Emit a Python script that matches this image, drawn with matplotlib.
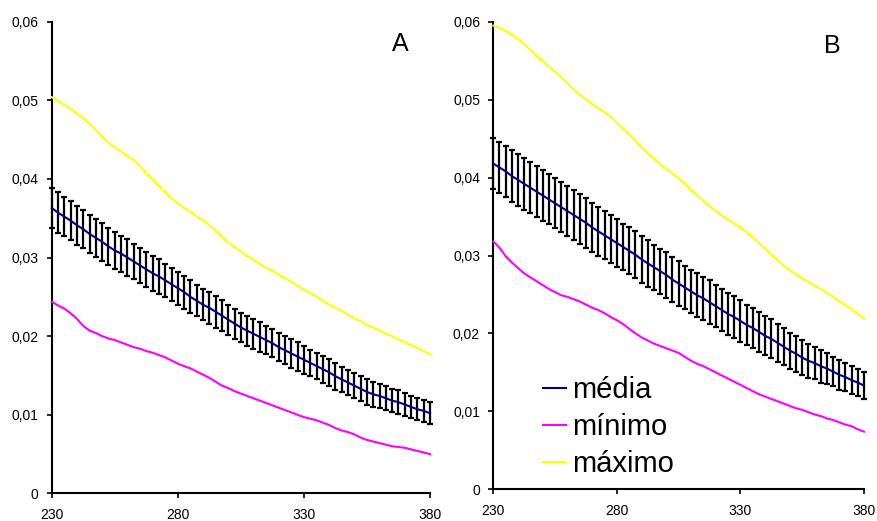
import numpy as np
import matplotlib
matplotlib.use('Agg')
import matplotlib.pyplot as plt
from matplotlib.ticker import FuncFormatter

plt.rcParams['font.family'] = ['Liberation Sans', 'DejaVu Sans']

# x categories (step 2.5)
x = np.arange(230, 380.1, 2.5)

# Panel A
a_media = [0.0363, 0.0357, 0.0352, 0.0347, 0.0341, 0.0336, 0.0330, 0.0325, 0.0320, 0.0314,
           0.0309, 0.0305, 0.0300, 0.0295, 0.0290, 0.0285, 0.0280, 0.0276, 0.0271, 0.0266,
           0.0261, 0.0256, 0.0250, 0.0245, 0.0240, 0.0236, 0.0231, 0.0226, 0.0221, 0.0216,
           0.0211, 0.0207, 0.0203, 0.0199, 0.0195, 0.0191, 0.0186, 0.0182, 0.0178, 0.0174,
           0.0170, 0.0166, 0.0162, 0.0158, 0.0154, 0.0149, 0.0145, 0.0141, 0.0137, 0.0133,
           0.0129, 0.0126, 0.0124, 0.0121, 0.0118, 0.0116, 0.0113, 0.0110, 0.0107, 0.0105,
           0.0102]
a_err = [0.0026, 0.0026, 0.0025, 0.0025, 0.0025, 0.0024, 0.0024, 0.0024, 0.0024, 0.0023,
         0.0023, 0.0023, 0.0023, 0.0022, 0.0022, 0.0022, 0.0022, 0.0022, 0.0021, 0.0021,
         0.0021, 0.0021, 0.0021, 0.0020, 0.0020, 0.0020, 0.0020, 0.0020, 0.0019, 0.0019,
         0.0019, 0.0019, 0.0019, 0.0019, 0.0018, 0.0018, 0.0018, 0.0018, 0.0018, 0.0018,
         0.0018, 0.0017, 0.0017, 0.0017, 0.0017, 0.0017, 0.0016, 0.0016, 0.0016, 0.0016,
         0.0016, 0.0016, 0.0015, 0.0015, 0.0015, 0.0015, 0.0015, 0.0014, 0.0014, 0.0014,
         0.0014]
a_min = [0.0244, 0.0239, 0.0235, 0.0229, 0.0222, 0.0213, 0.0207, 0.0204, 0.0200, 0.0197,
         0.0195, 0.0192, 0.0189, 0.0186, 0.0184, 0.0181, 0.0179, 0.0176, 0.0173, 0.0169,
         0.0165, 0.0162, 0.0159, 0.0155, 0.0151, 0.0147, 0.0142, 0.0137, 0.0134, 0.0130,
         0.0127, 0.0124, 0.0121, 0.0118, 0.0115, 0.0112, 0.0109, 0.0106, 0.0103, 0.0100,
         0.0097, 0.0095, 0.0093, 0.0090, 0.0087, 0.0083, 0.0080, 0.0078, 0.0075, 0.0071,
         0.0068, 0.0066, 0.0064, 0.0062, 0.0060, 0.0059, 0.0058, 0.0056, 0.0054, 0.0052,
         0.0050]
a_max = [0.0504, 0.0499, 0.0494, 0.0489, 0.0483, 0.0477, 0.0470, 0.0462, 0.0453, 0.0446,
         0.0440, 0.0435, 0.0429, 0.0424, 0.0416, 0.0407, 0.0399, 0.0391, 0.0383, 0.0375,
         0.0369, 0.0363, 0.0358, 0.0352, 0.0347, 0.0341, 0.0334, 0.0326, 0.0319, 0.0313,
         0.0308, 0.0302, 0.0297, 0.0292, 0.0287, 0.0283, 0.0278, 0.0274, 0.0269, 0.0264,
         0.0259, 0.0255, 0.0250, 0.0245, 0.0240, 0.0236, 0.0232, 0.0227, 0.0223, 0.0219,
         0.0214, 0.0211, 0.0207, 0.0203, 0.0200, 0.0196, 0.0192, 0.0189, 0.0185, 0.0181,
         0.0177]

# Panel B
b_media = [0.0418, 0.0413, 0.0408, 0.0402, 0.0397, 0.0392, 0.0387, 0.0382, 0.0377, 0.0372,
           0.0367, 0.0362, 0.0357, 0.0352, 0.0347, 0.0342, 0.0336, 0.0331, 0.0326, 0.0321,
           0.0316, 0.0311, 0.0306, 0.0301, 0.0295, 0.0290, 0.0285, 0.0280, 0.0275, 0.0269,
           0.0264, 0.0259, 0.0254, 0.0249, 0.0245, 0.0240, 0.0235, 0.0230, 0.0225, 0.0221,
           0.0216, 0.0211, 0.0207, 0.0202, 0.0197, 0.0193, 0.0188, 0.0183, 0.0178, 0.0174,
           0.0169, 0.0165, 0.0162, 0.0158, 0.0155, 0.0151, 0.0147, 0.0144, 0.0140, 0.0137,
           0.0133]
b_err = [0.0033, 0.0033, 0.0033, 0.0033, 0.0033, 0.0033, 0.0033, 0.0033, 0.0033, 0.0032,
         0.0032, 0.0032, 0.0032, 0.0032, 0.0032, 0.0032, 0.0032, 0.0031, 0.0031, 0.0031,
         0.0031, 0.0030, 0.0030, 0.0030, 0.0030, 0.0030, 0.0029, 0.0029, 0.0029, 0.0029,
         0.0029, 0.0028, 0.0028, 0.0028, 0.0028, 0.0028, 0.0027, 0.0027, 0.0027, 0.0027,
         0.0027, 0.0026, 0.0026, 0.0026, 0.0025, 0.0025, 0.0024, 0.0024, 0.0023, 0.0023,
         0.0022, 0.0022, 0.0021, 0.0021, 0.0020, 0.0019, 0.0019, 0.0018, 0.0018, 0.0017,
         0.0017]
b_min = [0.0318, 0.0310, 0.0299, 0.0291, 0.0284, 0.0277, 0.0272, 0.0267, 0.0262, 0.0257,
         0.0253, 0.0249, 0.0247, 0.0244, 0.0241, 0.0237, 0.0233, 0.0230, 0.0226, 0.0221,
         0.0217, 0.0212, 0.0206, 0.0200, 0.0195, 0.0191, 0.0187, 0.0184, 0.0181, 0.0178,
         0.0175, 0.0170, 0.0165, 0.0161, 0.0158, 0.0154, 0.0150, 0.0146, 0.0142, 0.0138,
         0.0134, 0.0130, 0.0126, 0.0122, 0.0119, 0.0116, 0.0113, 0.0110, 0.0107, 0.0104,
         0.0102, 0.0099, 0.0096, 0.0094, 0.0091, 0.0089, 0.0086, 0.0083, 0.0081, 0.0077,
         0.0074]
b_max = [0.0595, 0.0592, 0.0588, 0.0583, 0.0578, 0.0571, 0.0564, 0.0556, 0.0549, 0.0542,
         0.0536, 0.0529, 0.0521, 0.0513, 0.0506, 0.0500, 0.0494, 0.0489, 0.0484, 0.0478,
         0.0470, 0.0463, 0.0455, 0.0447, 0.0439, 0.0431, 0.0424, 0.0417, 0.0411, 0.0405,
         0.0399, 0.0392, 0.0384, 0.0377, 0.0370, 0.0363, 0.0357, 0.0351, 0.0346, 0.0341,
         0.0336, 0.0330, 0.0323, 0.0316, 0.0309, 0.0301, 0.0294, 0.0287, 0.0281, 0.0276,
         0.0270, 0.0266, 0.0261, 0.0257, 0.0252, 0.0247, 0.0241, 0.0236, 0.0231, 0.0225,
         0.0219]

x_ticks = [230, 280, 330, 380]
y_ticks = [0, 0.01, 0.02, 0.03, 0.04, 0.05, 0.06]
labels = ['média', 'mínimo', 'máximo']
colors = ['#000080', '#FF00FF', '#FFFF00']


def fmt(v, pos):
    if abs(v) < 1e-9:
        return '0'
    return f'{v:.2f}'.replace('.', ',')


def draw_panel(ax, media, err, vmin, vmax, letter, lx, ly):
    ax.errorbar(x, media, yerr=err, fmt='none', ecolor='black', elinewidth=1.6,
                capsize=2.4, capthick=1.6, clip_on=False, zorder=2)
    l1, = ax.plot(x, media, color=colors[0], lw=1.5, zorder=3, clip_on=False)
    l2, = ax.plot(x, vmin, color=colors[1], lw=1.5, zorder=3, clip_on=False)
    l3, = ax.plot(x, vmax, color=colors[2], lw=1.5, zorder=3, clip_on=False)
    ax.set_xlim(230, 380)
    ax.set_ylim(0, 0.06)
    ax.set_xticks(x_ticks)
    ax.set_yticks(y_ticks)
    ax.yaxis.set_major_formatter(FuncFormatter(fmt))
    for s in ['top', 'right']:
        ax.spines[s].set_visible(False)
    for s in ['left', 'bottom']:
        ax.spines[s].set_linewidth(1.5)
    ax.tick_params(axis='y', length=3.5, width=1.2, pad=6, labelsize=10)
    ax.tick_params(axis='x', length=3.5, width=1.2, pad=7, labelsize=10)
    ax.text(lx, ly, letter, transform=ax.transAxes, ha='center', va='center', fontsize=18)
    return [l1, l2, l3]


fig = plt.figure(figsize=(8.77, 5.21), dpi=100)
ax_a = fig.add_axes([0.0590, 0.0530, 0.4313, 0.9054])
ax_b = fig.add_axes([0.5625, 0.0608, 0.4227, 0.8975])

draw_panel(ax_a, a_media, a_err, a_min, a_max, 'A', 0.921, 0.953)
handles = draw_panel(ax_b, b_media, b_err, b_min, b_max, 'B', 0.914, 0.948)

ax_b.legend(handles, labels, loc='center left', bbox_to_anchor=(0.134, 0.133),
            frameon=False, fontsize=21, handlelength=0.8, handletextpad=0.2,
            labelspacing=0.3, borderpad=0, borderaxespad=0)

fig.savefig('out.png', dpi=100)
